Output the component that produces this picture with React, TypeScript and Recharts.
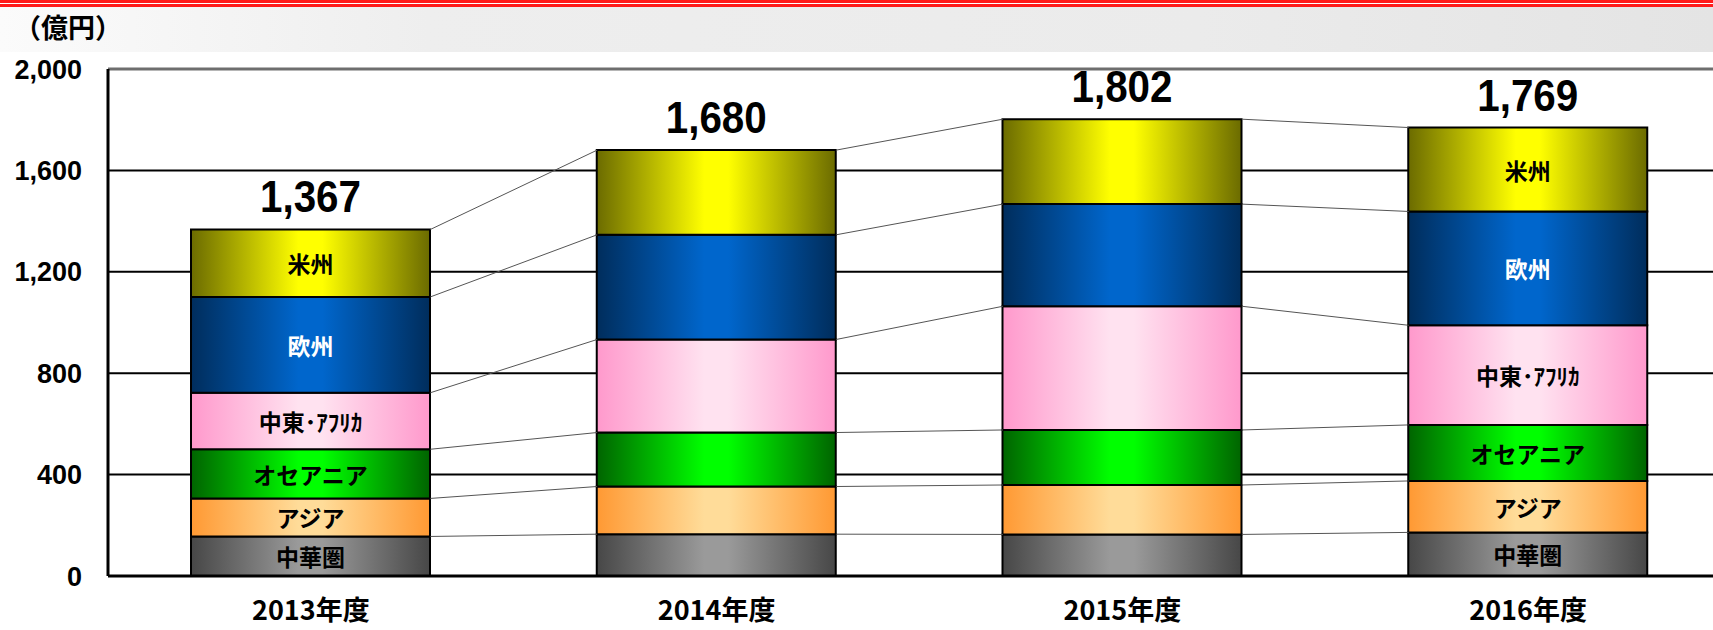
import React from 'react';
import { BarChart, Bar, XAxis, YAxis, CartesianGrid, ReferenceLine, LabelList } from 'recharts';

// 億円
const categories = ['2013年度', '2014年度', '2015年度', '2016年度'];
const china = [156, 165, 164, 172];
const asia = [150, 188, 195, 203];
const oceania = [194, 213, 217, 221];
const middleEastAfrica = [223, 367, 488, 393];
const europe = [378, 413, 403, 449];
const americas = [266, 334, 335, 331];
const totals = [1367, 1680, 1802, 1769];
const yTicks = [0, 400, 800, 1200, 1600, 2000];
const labelledBars = [0, 3];

const CJK = '"Noto Sans CJK JP", sans-serif';
const NUM = '"Liberation Sans", Arial, sans-serif';

const CHART_W = 1740;
const CHART_H = 630;
const MARGIN = { top: 69, right: 9, left: 8, bottom: 0 };
const Y_W = 100;
const PLOT_W = CHART_W - MARGIN.left - MARGIN.right - Y_W;
const BAR_SIZE = 239;
const HALF = BAR_SIZE / 2 / (PLOT_W / categories.length);

const series = [
  { key: 'china', name: '中華圏', values: china, grad: 'gGray', text: '#000' },
  { key: 'asia', name: 'アジア', values: asia, grad: 'gOrange', text: '#000' },
  { key: 'oceania', name: 'オセアニア', values: oceania, grad: 'gGreen', text: '#000' },
  { key: 'mea', name: '中東･ｱﾌﾘｶ', values: middleEastAfrica, grad: 'gPink', text: '#000' },
  { key: 'europe', name: '欧州', values: europe, grad: 'gBlue', text: '#fff' },
  { key: 'americas', name: '米州', values: americas, grad: 'gYellow', text: '#000' },
];

const gradients: Record<string, [string, string]> = {
  gGray: ['#474747', '#9a9a9a'],
  gOrange: ['#ff9933', '#ffdc99'],
  gGreen: ['#006400', '#00ff00'],
  gPink: ['#ff99cc', '#ffe2f0'],
  gBlue: ['#002d5c', '#0066cc'],
  gYellow: ['#6b6b00', '#ffff00'],
};

const data = categories.map((name, i) => {
  const row: Record<string, number | string> = { pos: i + 0.5, name };
  series.forEach((s) => (row[s.key] = s.values[i]));
  return row;
});

// cumulative boundaries for the connector lines
const levels = series.map((_, k) =>
  categories.map((__, i) => series.slice(0, k + 1).reduce((sum, s) => sum + s.values[i], 0))
);

const box = (props: any) => {
  const vb = props.viewBox ?? props;
  return { x: Number(vb.x), y: Number(vb.y), width: Number(vb.width), height: Number(vb.height) };
};

const segmentLabel = (name: string, color: string) => (props: any) => {
  if (!labelledBars.includes(props.index)) return null;
  const { x, y, width, height } = box(props);
  return (
    <text
      x={x + width / 2}
      y={y + height / 2}
      textAnchor="middle"
      dominantBaseline="central"
      fontSize={23}
      fontWeight={700}
      fontFamily={CJK}
      fill={color}
    >
      {name}
    </text>
  );
};

const totalLabel = (props: any) => {
  const { x, y, width } = box(props);
  const label = totals[props.index].toLocaleString('en-US');
  return (
    <text
      x={x + width / 2}
      y={y - 17}
      textAnchor="middle"
      fontSize={45}
      fontWeight={700}
      fontFamily={NUM}
      fill="#000"
      textLength={101}
      lengthAdjust="spacingAndGlyphs"
    >
      {label}
    </text>
  );
};

export default function App() {
  return (
    <div
      style={{
        position: 'absolute',
        left: 0,
        top: 0,
        width: 1713,
        height: 630,
        overflow: 'hidden',
        background: '#fff',
      }}
    >
      <div style={{ position: 'absolute', left: 0, top: 0, width: 1713, height: 3, background: '#ff1a1a' }} />
      <div style={{ position: 'absolute', left: 0, top: 4, width: 1713, height: 3, background: '#ff1a1a' }} />
      <div
        style={{
          position: 'absolute',
          left: 0,
          top: 7,
          width: 1713,
          height: 45,
          background: 'linear-gradient(90deg, #fbfbfb 0%, #eeeeee 25%, #ebebeb 70%, #e4e4e4 100%)',
        }}
      />
      <div
        style={{
          position: 'absolute',
          left: 14,
          top: 13,
          fontSize: 27,
          lineHeight: '27px',
          fontWeight: 700,
          fontFamily: CJK,
          color: '#000',
          whiteSpace: 'nowrap',
        }}
      >
        （億円）
      </div>
      <div style={{ position: 'absolute', left: 0, top: 0 }}>
        <BarChart width={CHART_W} height={CHART_H} data={data} margin={MARGIN}>
          <defs>
            {Object.entries(gradients).map(([id, [edge, mid]]) => (
              <linearGradient key={id} id={id} x1="0" y1="0" x2="1" y2="0">
                <stop offset="0%" stopColor={edge} />
                <stop offset="45%" stopColor={mid} />
                <stop offset="55%" stopColor={mid} />
                <stop offset="100%" stopColor={edge} />
              </linearGradient>
            ))}
          </defs>
          <CartesianGrid vertical={false} stroke="#000" strokeWidth={2} />
          <XAxis
            dataKey="pos"
            type="number"
            domain={[0, categories.length]}
            ticks={categories.map((_, i) => i + 0.5)}
            tickFormatter={(v: number) => categories[Math.floor(v)]}
            height={54}
            tickLine={false}
            tickMargin={19}
            axisLine={{ stroke: '#000', strokeWidth: 3 }}
            tick={{ fontSize: 27, fontWeight: 700, fontFamily: CJK, fill: '#000' }}
          />
          <YAxis
            type="number"
            domain={[0, 2000]}
            ticks={yTicks}
            width={Y_W}
            tickLine={false}
            tickMargin={20}
            tickFormatter={(v: number) => v.toLocaleString('en-US')}
            axisLine={{ stroke: '#000', strokeWidth: 3 }}
            tick={{ fontSize: 27, fontWeight: 700, fontFamily: NUM, fill: '#000' }}
          />
          <ReferenceLine y={2000} stroke="#6e6e6e" strokeWidth={3} />
          {series.map((s, k) => (
            <Bar
              key={s.key}
              dataKey={s.key}
              stackId="a"
              barSize={BAR_SIZE}
              fill={`url(#${s.grad})`}
              stroke="#000"
              strokeWidth={2}
              isAnimationActive={false}
            >
              <LabelList dataKey={s.key} content={segmentLabel(s.name, s.text)} />
              {k === series.length - 1 && <LabelList dataKey={s.key} content={totalLabel} />}
            </Bar>
          ))}
          {levels.flatMap((level, k) =>
            categories.slice(0, -1).map((_, i) => (
              <ReferenceLine
                key={`c-${k}-${i}`}
                segment={[
                  { x: i + 0.5 + HALF, y: level[i] },
                  { x: i + 1.5 - HALF, y: level[i + 1] },
                ]}
                stroke="#555"
                strokeWidth={1}
              />
            ))
          )}
        </BarChart>
      </div>
    </div>
  );
}
